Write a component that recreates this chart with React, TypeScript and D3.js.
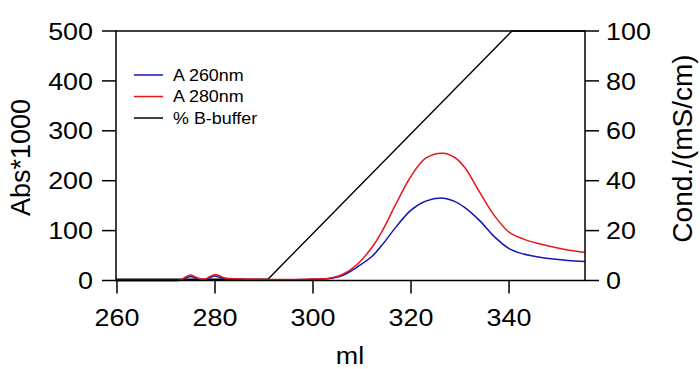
import React from "react";
import * as d3 from "d3";

const ml = [259.8, 262, 266, 270, 272, 273, 274, 275, 276, 277, 278, 279, 280, 281, 282, 283, 285, 288, 291, 295, 300, 303, 306, 309, 312, 314, 317, 320, 323, 326.5, 329, 331, 334, 337, 340, 343, 346, 349, 352, 355.5];
const a280 = [0, 0, 0, 0, 0, 1, 7, 11, 7, 3, 3, 8, 12, 9, 5, 4, 3, 2.5, 2, 2, 3, 4, 12, 32, 66, 97, 155, 209, 245, 255, 246, 226, 177, 130, 97, 83, 74, 67, 61, 56];
const a260 = [0, 0, 0, 0, 0, 1, 5, 8, 5, 2, 2, 6, 9, 6, 4, 3, 2, 1.5, 1.5, 1.5, 2.5, 3.5, 10, 27, 48, 70, 108, 141, 159, 165, 158, 146, 120, 88, 64, 53, 47, 43, 40, 38];
const bufferMl = [259.8, 290.8, 340.6, 355.5];
const bufferPct = [0.5, 0.5, 100, 100];

const xTicks = [260, 280, 300, 320, 340];
const yLeftTicks = [0, 100, 200, 300, 400, 500];
const yRightTicks = [0, 20, 40, 60, 80, 100];
const legendItems = [
  { label: "A 260nm", color: "#1414b4" },
  { label: "A 280nm", color: "#e61919" },
  { label: "% B-buffer", color: "#000000" },
];

const FONT = "'Liberation Sans', Arial, Helvetica, sans-serif";
const SX = 1.12;

function Txt({ x, y, anchor = "start", size, children, dy = "0" }: any) {
  return (
    <text transform={`translate(${x},${y}) scale(${SX},1)`} textAnchor={anchor} fontSize={size} dy={dy}>
      {children}
    </text>
  );
}

export default function App() {
  const left = 116, right = 585, top = 31, bottom = 280.5;
  const x = d3.scaleLinear().domain([259.8, 355.5]).range([left, right]);
  const yL = d3.scaleLinear().domain([0, 500]).range([bottom, top]);
  const yR = d3.scaleLinear().domain([0, 100]).range([bottom, top]);

  const line = (xs: number[], ys: number[], y: d3.ScaleLinear<number, number>, curve: any) =>
    d3.line<number>().x((_, i) => x(xs[i])).y((v) => y(v)).curve(curve)(ys) || "";

  return (
    <svg width={700} height={369} style={{ position: "absolute", left: 0, top: 0, background: "#fff" }} fontFamily={FONT}>
      <rect x={0} y={0} width={700} height={369} fill="#fff" />
      {/* data lines */}
      <path d={line(bufferMl, bufferPct, yR, d3.curveLinear)} fill="none" stroke="#000" strokeWidth={1.4} />
      <path d={line(ml, a260, yL, d3.curveCatmullRom.alpha(0.5))} fill="none" stroke={legendItems[0].color} strokeWidth={1.5} />
      <path d={line(ml, a280, yL, d3.curveCatmullRom.alpha(0.5))} fill="none" stroke={legendItems[1].color} strokeWidth={1.5} />

      {/* frame */}
      <rect x={left} y={top} width={right - left} height={bottom - top} fill="none" stroke="#000" strokeWidth={1.5} />

      {/* left axis */}
      {yLeftTicks.map((t) => (
        <g key={"l" + t}>
          <line x1={left - 14} x2={left} y1={yL(t)} y2={yL(t)} stroke="#000" strokeWidth={1.5} />
          <Txt x={left - 23} y={yL(t)} dy="0.36em" anchor="end" size={24}>{t}</Txt>
        </g>
      ))}
      {/* right axis */}
      {yRightTicks.map((t) => (
        <g key={"r" + t}>
          <line x1={right} x2={right + 14} y1={yR(t)} y2={yR(t)} stroke="#000" strokeWidth={1.5} />
          <Txt x={right + 21} y={yR(t)} dy="0.36em" anchor="start" size={24}>{t}</Txt>
        </g>
      ))}
      {/* bottom axis */}
      {xTicks.map((t) => (
        <g key={"b" + t}>
          <line x1={x(t)} x2={x(t)} y1={bottom} y2={bottom + 13} stroke="#000" strokeWidth={1.5} />
          <Txt x={x(t)} y={326} anchor="middle" size={24}>{t}</Txt>
        </g>
      ))}

      {/* axis titles */}
      <Txt x={350} y={364} anchor="middle" size={24}>ml</Txt>
      <text transform={`translate(30,157.5) rotate(-90)`} textAnchor="middle" fontSize={27}>Abs*1000</text>
      <text transform={`translate(692,148.5) rotate(-90)`} textAnchor="middle" fontSize={28}>Cond./(mS/cm)</text>

      {/* legend */}
      {legendItems.map((d, i) => (
        <g key={d.label} transform={`translate(134,${75 + i * 21.5})`}>
          <line x1={0} x2={29} y1={0} y2={0} stroke={d.color} strokeWidth={1.5} />
          <Txt x={39} y={0} dy="0.36em" size={16}>{d.label}</Txt>
        </g>
      ))}
    </svg>
  );
}
